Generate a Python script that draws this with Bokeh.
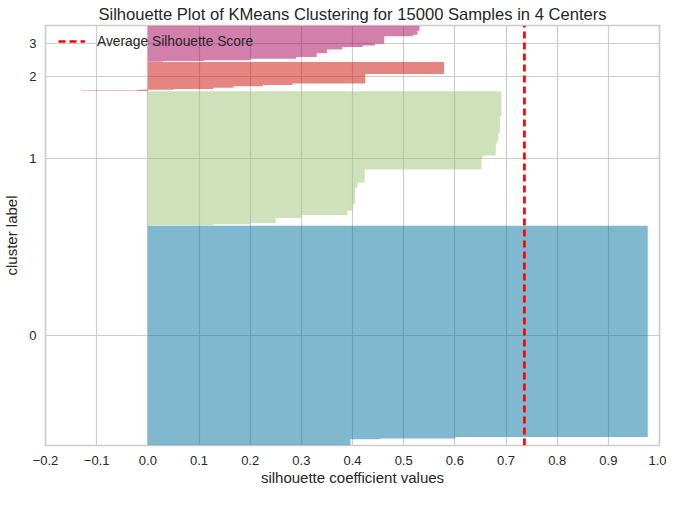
from bokeh.plotting import figure
from bokeh.models import (Range1d, FixedTicker, CustomJSTickFormatter,
                          Legend, LegendItem)
from bokeh.embed import file_html
from bokeh.resources import INLINE

# silhouette profile of every cluster, sorted from low to high:
# number of samples in each step and the silhouette value of that step
cluster_labels = ["0", "1", "2", "3"]
cluster_colors = ["#0272a2", "#9fc377", "#ca0b03", "#a50258"]

c0_counts = [214, 25, 60, 7561]
c0_values = [0.396, 0.454, 0.601, 0.977]

c1_counts = [46, 46, 178, 107, 157, 235, 594, 178, 473, 416, 82, 392, 121, 295, 594, 896]
c1_values = [0.128, 0.20, 0.25, 0.30, 0.39, 0.40, 0.405, 0.41, 0.424,
             0.652, 0.654, 0.680, 0.682, 0.685, 0.688, 0.691]

c2_counts = [20, 25, 30, 40, 60, 40, 60, 340, 425]
c2_values = [-0.13, -0.02, 0.05, 0.128, 0.167, 0.225, 0.283, 0.425, 0.579]

c3_counts = [25, 28, 60, 57, 132, 142, 89, 53, 60, 270, 50, 142, 182]
c3_values = [0.03, 0.11, 0.20, 0.29, 0.33, 0.35, 0.38, 0.42, 0.444, 0.462, 0.518, 0.527, 0.531]

avg_score = 0.736
n_samples = 15000
x_ticks = [-0.2, -0.1, 0.0, 0.1, 0.2, 0.3, 0.4, 0.5, 0.6, 0.7, 0.8, 0.9, 1.0]

FONT = "Liberation Sans"
TEXT = "#262626"
GRIDC = "#cccccc"

profiles = [(c0_counts, c0_values), (c1_counts, c1_values),
            (c2_counts, c2_values), (c3_counts, c3_values)]
y_max = n_samples + (len(profiles) + 1) * 10

p = figure(width=666, height=489,
           title="Silhouette Plot of KMeans Clustering for 15000 Samples in 4 Centers",
           x_range=Range1d(-0.2, 1.0), y_range=Range1d(0, y_max),
           x_axis_label="silhouette coefficient values", y_axis_label="cluster label",
           output_backend="svg", toolbar_location=None,
           min_border_left=39, min_border_right=7, min_border_top=22, min_border_bottom=44)

# one filled step shape per cluster, stacked like yellowbrick does (gap of 10)
y_lower = 10
tick_pos = []
for (counts, values), color in zip(profiles, cluster_colors):
    xs, ys = [], []
    y0 = y_lower
    for c, v in zip(counts, values):
        xs += [v, v]
        ys += [y0, y0 + c]
        y0 += c
    p.harea(x1=0, x2=xs, y=ys, fill_color=color, fill_alpha=0.5)
    size = sum(counts)
    tick_pos.append(y_lower + size // 2)
    y_lower += size + 10

avg = p.line([avg_score, avg_score], [0, y_max], line_color="red",
             line_width=2.7, line_dash="7 4")

legend = Legend(items=[LegendItem(label="Average Silhouette Score", renderers=[avg])],
                location=(13, 394), margin=0, padding=0, glyph_width=27, glyph_height=20,
                label_standoff=12, background_fill_alpha=0, border_line_alpha=0,
                label_text_font=FONT, label_text_font_size="13.8px",
                label_text_color=TEXT)
p.add_layout(legend)

p.xaxis.ticker = FixedTicker(ticks=x_ticks)
p.xaxis.formatter = CustomJSTickFormatter(code="return tick.toFixed(1).replace('-', '\\u2212')")
p.yaxis.ticker = FixedTicker(ticks=tick_pos)
p.yaxis.major_label_overrides = {t: l for t, l in zip(tick_pos, cluster_labels)}

for ax in (p.xaxis, p.yaxis):
    ax.axis_line_color = None
    ax.major_tick_line_color = None
    ax.minor_tick_line_color = None
    ax.major_tick_out = 0
    ax.major_tick_in = 0
    ax.minor_tick_out = 0
    ax.minor_tick_in = 0
    ax.major_label_text_font = FONT
    ax.major_label_text_font_size = "13px"
    ax.major_label_text_color = TEXT
    ax.axis_label_text_font = FONT
    ax.axis_label_text_font_size = "15px"
    ax.axis_label_text_font_style = "normal"
    ax.axis_label_text_color = TEXT

p.xaxis.major_label_standoff = 10
p.xaxis.axis_label_standoff = 1
p.yaxis.major_label_standoff = 9
p.yaxis.axis_label_standoff = 6

p.xgrid.grid_line_color = GRIDC
p.ygrid.grid_line_color = GRIDC
p.xgrid.grid_line_width = 1.2
p.ygrid.grid_line_width = 1.2
p.outline_line_color = GRIDC
p.outline_line_width = 1.7

p.title.align = "center"
p.title.text_font = FONT
p.title.text_font_size = "16.6px"
p.title.text_font_style = "normal"
p.title.text_color = TEXT
p.title.standoff = 4

open("out.html", "w").write(file_html(p, INLINE))
